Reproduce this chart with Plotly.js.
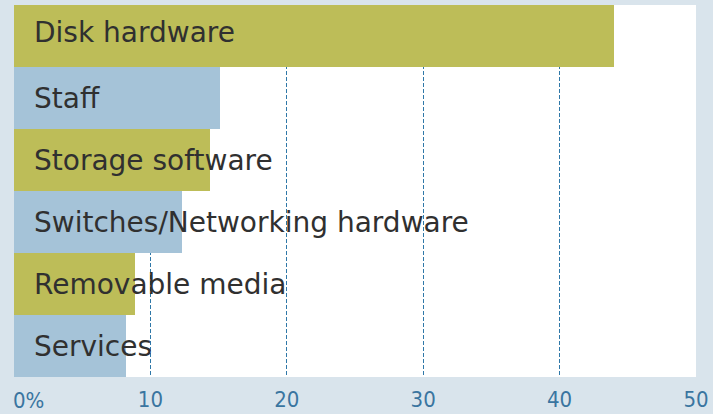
<!DOCTYPE html>
<html>
<head>
<meta charset="utf-8">
<script src="https://cdn.plot.ly/plotly-3.0.1.min.js"></script>
<style>html,body{margin:0;padding:0;background:#d9e4ec;}#chart{width:713px;height:414px;}</style>
</head>
<body>
<div id="chart"></div>
<script>
const categories = ["Disk hardware", "Staff", "Storage software", "Switches/Networking hardware", "Removable media", "Services"];
const values = [44.0, 15.1, 14.4, 12.3, 8.9, 8.2];
const barColors = ["#bdbd58", "#a5c3d8", "#bdbd58", "#a5c3d8", "#bdbd58", "#a5c3d8"];
const tickVals = [10, 20, 30, 40, 50];
const tickText = ["10", "20", "30", "40", "50"];

const trace = {
  type: "bar",
  orientation: "h",
  x: values,
  y: categories,
  marker: {color: barColors, line: {width: 0}},
  hoverinfo: "none"
};

const annotations = categories.map((c, i) => ({
  x: 0, y: c, xref: "x", yref: "y",
  text: c, showarrow: false,
  xanchor: "left", yanchor: "middle", xshift: 18, yshift: i === 0 ? 4 : 0,
  font: {family: "DejaVu Sans", size: 28, color: "#303030"}
}));
annotations.push({
  x: 0, y: 0, xref: "x", yref: "paper",
  text: "0%", showarrow: false,
  xanchor: "left", yanchor: "top", yshift: -9, xshift: -3,
  font: {family: "DejaVu Sans Condensed", size: 22, color: "#3a75a0"}
});

const layout = {
  width: 713, height: 414,
  margin: {l: 14, r: 17, t: 5, b: 37},
  paper_bgcolor: "#d9e4ec",
  plot_bgcolor: "#ffffff",
  bargap: 0,
  showlegend: false,
  xaxis: {
    range: [0, 50],
    tickvals: tickVals, ticktext: tickText,
    showgrid: true, gridcolor: "#2f78a8", gridwidth: 1, griddash: "4px,2px",
    zeroline: false, showline: false, ticks: "",
    ticklabelstandoff: 7,
    tickfont: {family: "DejaVu Sans Condensed", size: 22, color: "#3a75a0"}
  },
  yaxis: {
    autorange: "reversed",
    showticklabels: false, showgrid: false, zeroline: false, ticks: ""
  },
  annotations: annotations
};

Plotly.newPlot("chart", [trace], layout, {displayModeBar: false, staticPlot: true});
</script>
</body>
</html>
